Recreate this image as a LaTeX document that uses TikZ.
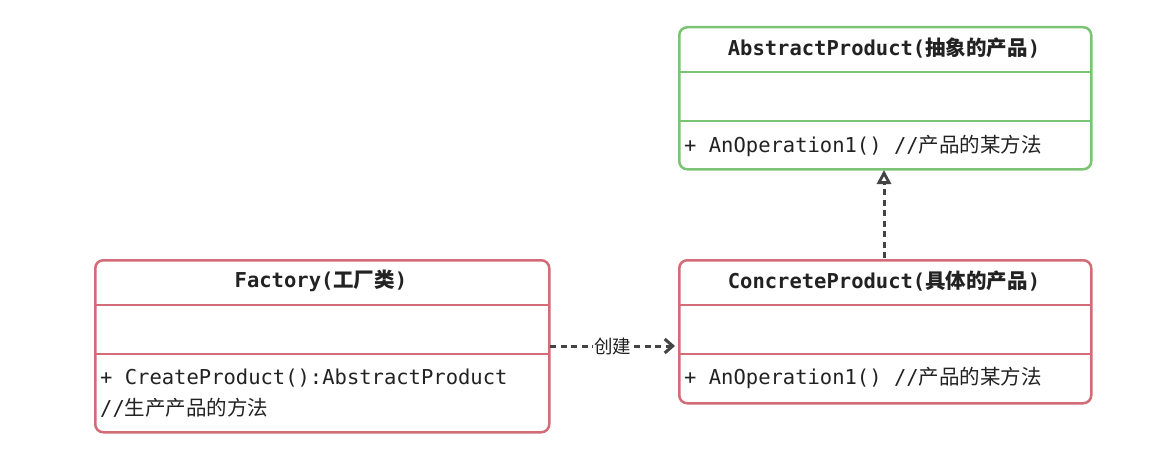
\documentclass[tikz,border=0pt]{standalone}
\usepackage{fontspec}
\setmonofont{DejaVu Sans Mono}
\newfontfamily\cjk{Noto Sans CJK SC}
\usetikzlibrary{arrows.meta}
\definecolor{boxgreen}{RGB}{122,196,116}
\definecolor{boxred}{RGB}{210,108,118}
\definecolor{ink}{RGB}{34,34,34}
\definecolor{conn}{RGB}{68,68,68}
\tikzset{
  classbox/.style={draw, line width=2.5pt, rounded corners=8pt, fill=white, inner sep=0pt, anchor=north west},
  title/.style={font=\ttfamily\bfseries\fontsize{20.5}{24}\selectfont, text=ink, inner sep=0pt},
  member/.style={font=\ttfamily\fontsize{20.5}{30}\selectfont, text=ink, inner sep=0pt, anchor=west, align=left},
  divider/.style={line width=2.5pt},
  depline/.style={draw=conn, line width=3pt, dash pattern=on 6pt off 4.5pt},
}
\begin{document}
\begin{tikzpicture}[x=1pt,y=-1pt]
\useasboundingbox[fill=white] (0,0) rectangle (1166,452);

% AbstractProduct
\node[classbox, draw=boxgreen, minimum width=412pt, minimum height=142pt] (abs) at (678,26) {};
\draw[divider, boxgreen] (678,72) -- (1090,72);
\draw[divider, boxgreen] (678,121) -- (1090,121);
\node[title] (absT) at (884,48) {AbstractProduct({\cjk\bfseries 抽象的产品})};
\node[member] (absM) at (684,146) {+ AnOperation1() //{\cjk 产品的某方法}};

% Factory
\node[classbox, draw=boxred, minimum width=454pt, minimum height=172pt] (fac) at (94,259) {};
\draw[divider, boxred] (94,305) -- (548,305);
\draw[divider, boxred] (94,354) -- (548,354);
\node[title] (facT) at (321,281) {Factory({\cjk\bfseries 工厂类})};
\node[member] (facM1) at (100,378) {+ CreateProduct():AbstractProduct};
\node[member] (facM2) at (100,408) {//{\cjk 生产产品的方法}};

% ConcreteProduct
\node[classbox, draw=boxred, minimum width=412pt, minimum height=143pt] (con) at (678,259) {};
\draw[divider, boxred] (678,305) -- (1090,305);
\draw[divider, boxred] (678,354) -- (1090,354);
\node[title] (conT) at (884,281) {ConcreteProduct({\cjk\bfseries 具体的产品})};
\node[member] (conM) at (684,378) {+ AnOperation1() //{\cjk 产品的某方法}};

% connectors
\coordinate (facR) at (550,346);
\coordinate (conL) at (675,346);
\draw[depline, -{Straight Barb[length=8pt,width=14pt,line width=3pt]}] (facR) -- (conL)
  node[pos=0.5, fill=white, inner sep=1.5pt, text=ink, font=\cjk\fontsize{18.5}{22}\selectfont] (lbl) {创建};
\coordinate (conTop) at (884,258);
\coordinate (absBot) at (884,170);
\draw[depline, -{Triangle[open,length=14pt,width=14pt,line width=2.8pt]}] (conTop) -- (absBot);
\end{tikzpicture}
\end{document}
